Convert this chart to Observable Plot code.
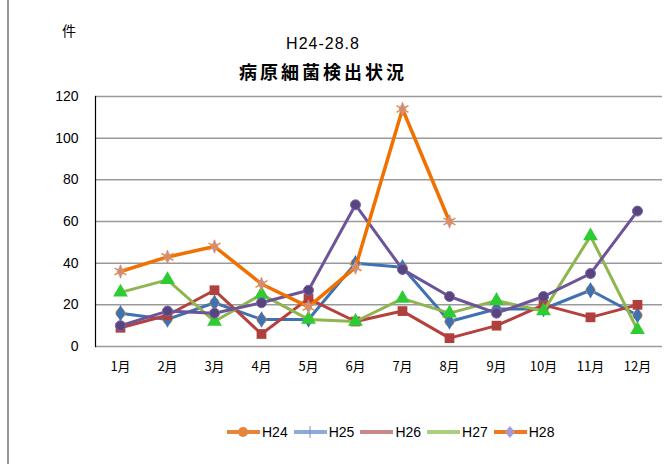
<!DOCTYPE html>
<html>
<head>
<meta charset="utf-8">
<script src="https://cdn.jsdelivr.net/npm/d3@7"></script>
<script src="https://cdn.jsdelivr.net/npm/@observablehq/plot@0.6"></script>
<style>
  body { margin: 0; background: #fff; }
  #wrap { position: relative; width: 672px; height: 464px; overflow: hidden; font-family: "Noto Sans CJK JP", "Liberation Sans", sans-serif; }
  #plot { position: absolute; left: 0; top: 0; }
  .abs { position: absolute; white-space: nowrap; color: #000; }
  #leftborder { position: absolute; left: 7px; top: 0; width: 1.5px; height: 464px; background: #999; }
  #legend { position: absolute; top: 424px; left: 227px; display: flex; align-items: center; font-family: "Liberation Sans", sans-serif; font-size: 14px; }
  #legend .item { display: flex; align-items: center; margin-right: 6px; }
  #legend svg { margin-right: 2px; }
</style>
</head>
<body>
<div id="wrap">
  <div id="plot"></div>
  <div id="leftborder"></div>
  <div class="abs" style="left:62px; top:20px; font-size:14px;">件</div>
  <div class="abs" style="left:0; width:646px; text-align:center; top:35px; font-size:16px; font-family:'Liberation Sans',sans-serif; letter-spacing:1px;">H24-28.8</div>
  <div class="abs" style="left:0; width:646px; text-align:center; top:58px; font-size:18px; font-weight:bold; letter-spacing:3px;">病原細菌検出状況</div>
  <div id="legend"></div>
</div>
<script>
const months = ["1月","2月","3月","4月","5月","6月","7月","8月","9月","10月","11月","12月"];
const seriesNames = ["H24","H25","H26","H27","H28"];
const yTicks = [0, 20, 40, 60, 80, 100, 120];

const h24 = [16, 13, 21, 13, 13, 40, 38, 12, 18, 18, 27, 15];
const h25 = [9, 15, 27, 6, 23, 12, 17, 4, 10, 20, 14, 20];
const h26 = [26, 32, 12, 25, 13, 12, 23, 16, 22, 17, 53, 8];
const h27 = [10, 17, 16, 21, 27, 68, 37, 24, 16, 24, 35, 65];
const h28 = [36, 43, 48, 30, 19, 38, 114, 60];

const lineColors = ["#3f72b0", "#b5403d", "#8fb54f", "#6d5498", "#f07000"];
const markColors = ["#3f72b0", "#b0403e", "#2ecc33", "#58447f", "#e88a40"];
const values = [h24, h25, h26, h27, h28];

const rows = [];
values.forEach((arr, si) => arr.forEach((v, i) => rows.push({series: seriesNames[si], month: months[i], value: v, si})));
const bySeries = s => rows.filter(d => d.series === s);

const marks = [
  Plot.ruleY(yTicks, {stroke: "#9a9a9a", strokeWidth: 1.5}),
  Plot.frame({anchor: "left", stroke: "#000", strokeWidth: 1.2})
];

seriesNames.forEach((s, si) => {
  const d = bySeries(s);
  marks.push(Plot.line(d, {x: "month", y: "value", stroke: lineColors[si], strokeWidth: si === 4 ? 3.5 : 3, curve: "linear"}));
  if (si === 0) {
    marks.push(Plot.dot(d, {x: "month", y: "value", symbol: "circle", r: 5, fill: "#e8934a"}));
    marks.push(Plot.dot(d, {x: "month", y: "value", symbol: "diamond", r: 5, fill: markColors[0]}));
  } else if (si === 4) {
    marks.push(Plot.dot(d, {x: "month", y: "value", symbol: "diamond", r: 4, fill: "#a898d8"}));
    marks.push(Plot.dot(d, {x: "month", y: "value", symbol: "asterisk", r: 6.5, stroke: markColors[4], strokeWidth: 1.5}));
  } else if (si === 3) {
    marks.push(Plot.dot(d, {x: "month", y: "value", symbol: "circle", r: 5, fill: markColors[3], stroke: "#7a66a8", strokeWidth: 1}));
  } else if (si === 2) {
    marks.push(Plot.dot(d, {x: "month", y: "value", symbol: "triangle", r: 5.5, fill: markColors[2]}));
  } else {
    marks.push(Plot.dot(d, {x: "month", y: "value", symbol: "square", r: 5.5, fill: markColors[1]}));
  }
});

const chart = Plot.plot({
  width: 672,
  height: 390,
  marginLeft: 95,
  marginRight: 10,
  marginTop: 96,
  marginBottom: 44,
  style: {fontFamily: "'Liberation Sans', sans-serif", fontSize: "14px", color: "#000", background: "transparent"},
  x: {type: "point", domain: months, padding: 0.5, label: null, tickSize: 0, tickPadding: 15, tickFormat: d => d},
  y: {domain: [0, 120], ticks: yTicks, label: null, tickSize: 0, tickPadding: 17},
  marks
});
chart.querySelectorAll("[aria-label='x-axis tick label'] text, [aria-label='x-axis tick label']").forEach(el => {
  el.style.fontFamily = "'Noto Sans CJK JP', sans-serif";
  el.style.fontSize = "13px";
});
document.getElementById("plot").appendChild(chart);

// Legend (mirrors the reference legend styles)
const legendStyles = [
  {color: "#e8843a", marker: "circle", mcolor: "#e8843a"},
  {color: "#8eaadc", marker: "plus", mcolor: "#6e90cc"},
  {color: "#c98888", marker: null},
  {color: "#a9d07e", marker: null},
  {color: "#ee7a1e", marker: "diamond", mcolor: "#a898d8"}
];
const legend = document.getElementById("legend");
seriesNames.forEach((s, i) => {
  const st = legendStyles[i];
  const item = document.createElement("div");
  item.className = "item";
  let m = "";
  if (st.marker === "circle") m = `<circle cx="16" cy="7" r="5" fill="${st.mcolor}"/>`;
  if (st.marker === "plus") m = `<line x1="16" y1="1" x2="16" y2="13" stroke="${st.mcolor}" stroke-width="1"/>`;
  if (st.marker === "diamond") m = `<path d="M16 1 L21 7 L16 13 L11 7 Z" fill="${st.mcolor}"/>`;
  item.innerHTML = `<svg width="33" height="14"><line x1="0" y1="7" x2="33" y2="7" stroke="${st.color}" stroke-width="4"/>${m}</svg><span>${s}</span>`;
  legend.appendChild(item);
});
</script>
</body>
</html>
